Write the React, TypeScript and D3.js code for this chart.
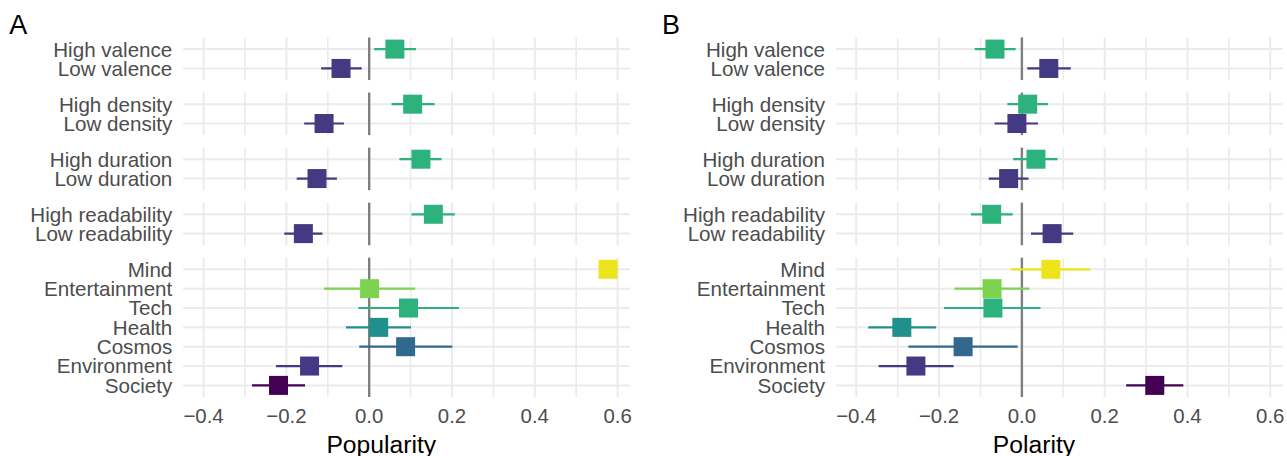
import * as d3 from "d3";

// rows, top to bottom, and the facet each belongs to
const categories = [
  "High valence", "Low valence",
  "High density", "Low density",
  "High duration", "Low duration",
  "High readability", "Low readability",
  "Mind", "Entertainment", "Tech", "Health", "Cosmos", "Environment", "Society",
];
const facets = [1, 1, 2, 2, 3, 3, 4, 4, 5, 5, 5, 5, 5, 5, 5];

// panel A: popularity
const popularity = [0.062, -0.068, 0.105, -0.109, 0.125, -0.126, 0.155, -0.159, 0.577, 0.001, 0.095, 0.023, 0.088, -0.144, -0.219];
const popularityLow = [0.012, -0.116, 0.054, -0.157, 0.073, -0.175, 0.102, -0.205, null, -0.109, -0.026, -0.056, -0.024, -0.225, -0.283];
const popularityHigh = [0.113, -0.018, 0.158, -0.061, 0.175, -0.078, 0.207, -0.113, null, 0.111, 0.217, 0.101, 0.201, -0.065, -0.155];

// panel B: polarity
const polarity = [-0.065, 0.065, 0.014, -0.012, 0.034, -0.032, -0.073, 0.073, 0.070, -0.072, -0.070, -0.290, -0.142, -0.256, 0.321];
const polarityLow = [-0.114, 0.013, -0.035, -0.066, -0.021, -0.080, -0.123, 0.022, -0.026, -0.163, -0.188, -0.371, -0.274, -0.346, 0.252];
const polarityHigh = [-0.015, 0.118, 0.063, 0.039, 0.086, 0.016, -0.022, 0.124, 0.165, 0.018, 0.045, -0.207, -0.010, -0.165, 0.390];

const majorTicks = [-0.4, -0.2, 0, 0.2, 0.4, 0.6];
const minorTicks = [-0.3, -0.1, 0.1, 0.3, 0.5];

const colorOf: Record<string, string> = {
  High: "#2DB27D",
  Low: "#443983",
  Mind: "#EDE51B",
  Entertainment: "#7DD250",
  Tech: "#2DB27D",
  Health: "#21908C",
  Cosmos: "#31688E",
  Environment: "#443983",
  Society: "#440154",
};

const width = 1287;
const height = 456;
const plotTop = 37.5;
const plotBottom = 397;
const facetGap = 12.5;
const font = "'Liberation Sans', Arial, Helvetica, sans-serif";

function colorFor(name: string) {
  return colorOf[name] ?? colorOf[name.split(" ")[0]];
}

// facet layout shared by both panels (ggplot discrete expansion 0.6 each side)
const facetGroups = d3.groups(
  categories.map((c, i) => ({ c, f: facets[i] })),
  (d) => d.f
);
const totalUnits = d3.sum(facetGroups, (g) => g[1].length + 0.2);
const unit = (plotBottom - plotTop - facetGap * (facetGroups.length - 1)) / totalUnits;
let acc = plotTop;
const facetBoxes = facetGroups.map(([f, rows]) => {
  const h = (rows.length + 0.2) * unit;
  const y = d3.scalePoint<string>()
    .domain(rows.map((r) => r.c))
    .range([acc, acc + h])
    .padding(0.6);
  const box = { f, top: acc, bottom: acc + h, y };
  acc += h + facetGap;
  return box;
});

function rowY(name: string) {
  const box = facetBoxes.find((b) => b.y.domain().includes(name))!;
  return box.y(name)!;
}

type PanelProps = {
  left: number;
  right: number;
  tag: string;
  title: string;
  est: number[];
  lo: (number | null)[];
  hi: (number | null)[];
};

function Panel({ left, right, tag, title, est, lo, hi }: PanelProps) {
  const x = d3.scaleLinear().domain([-0.449, 0.63]).range([left, right]);
  const fmt = d3.format(".1f");

  return (
    <g>
      <text x={left - 174} y={34} fontSize={27} fontFamily={font} fill="black">{tag}</text>

      {facetBoxes.map((b) => (
        <g key={b.f}>
          {minorTicks.map((t) => (
            <line key={"m" + t} x1={x(t)} x2={x(t)} y1={b.top} y2={b.bottom} stroke="#EBEBEB" strokeWidth={1.6} />
          ))}
          {majorTicks.map((t) => (
            <line key={"M" + t} x1={x(t)} x2={x(t)} y1={b.top} y2={b.bottom} stroke="#EBEBEB" strokeWidth={2} />
          ))}
          {b.y.domain().map((c) => (
            <line key={c} x1={left} x2={right} y1={b.y(c)} y2={b.y(c)} stroke="#EBEBEB" strokeWidth={2} />
          ))}
          <line x1={x(0)} x2={x(0)} y1={b.top} y2={b.bottom} stroke="#7F7F7F" strokeWidth={2.4} />
        </g>
      ))}

      {/* category labels */}
      {categories.map((c) => (
        <text key={c} x={left - 11} y={rowY(c)} dy="0.36em" textAnchor="end"
          fontSize={20.6} fontFamily={font} fill="#4D4D4D">{c}</text>
      ))}

      {/* error bars and points */}
      {categories.map((c, i) => {
        const yy = rowY(c);
        const col = colorFor(c);
        const l = lo[i];
        const h = hi[i];
        return (
          <g key={c}>
            {l != null && h != null && (
              <line x1={x(l)} x2={x(h)} y1={yy} y2={yy} stroke={col} strokeWidth={2.2} />
            )}
            <rect x={x(est[i]) - 9.5} y={yy - 9.5} width={19} height={19} fill={col} />
          </g>
        );
      })}

      {/* x axis ticks */}
      {majorTicks.map((t) => (
        <text key={t} x={x(t)} y={423.3} textAnchor="middle" fontSize={20.4}
          fontFamily={font} fill="#4D4D4D">{fmt(t)}</text>
      ))}
      <text x={left + 198} y={452.7} textAnchor="middle" fontSize={24.7}
        fontFamily={font} fill="black">{title}</text>
    </g>
  );
}

export default function App() {
  return (
    <svg width={width} height={height} style={{ position: "absolute", left: 0, top: 0, background: "white" }}>
      <Panel left={183.3} right={630} tag="A" title="Popularity"
        est={popularity} lo={popularityLow} hi={popularityHigh} />
      <Panel left={836} right={1282.7} tag="B" title="Polarity"
        est={polarity} lo={polarityLow} hi={polarityHigh} />
    </svg>
  );
}
